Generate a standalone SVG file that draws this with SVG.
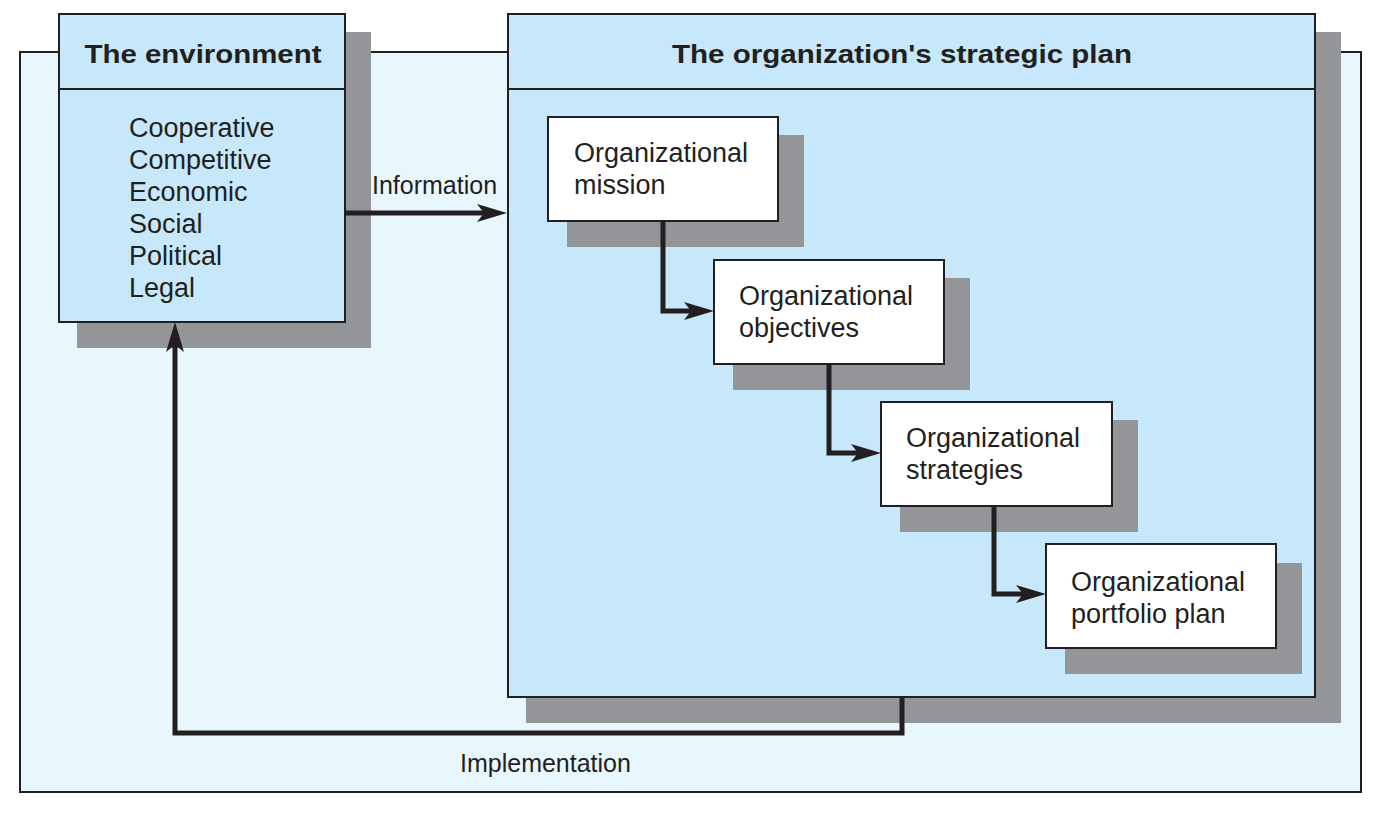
<svg xmlns="http://www.w3.org/2000/svg" width="1376" height="813" viewBox="0 0 1376 813">
  <style>
    .frame { fill: #e8f6fe; stroke: #231f20; stroke-width: 2; }
    .panel { fill: #c7e8fa; stroke: #231f20; stroke-width: 2; }
    .card { fill: #ffffff; stroke: #231f20; stroke-width: 2; }
    .shadow { fill: #939598; stroke: none; }
    .rule { stroke: #231f20; stroke-width: 2; fill: none; }
    .title { font-family: "Liberation Sans", Arial, sans-serif; font-weight: bold; font-size: 26px; fill: #231f20; }
    .body { font-family: "Liberation Sans", Arial, sans-serif; font-size: 27px; fill: #231f20; }
    .label { font-family: "Liberation Sans", Arial, sans-serif; font-size: 25px; fill: #231f20; }
    .conn { fill: none; stroke: #231f20; stroke-width: 5; stroke-linejoin: miter; }
  </style>
  <defs>
    <marker id="arrow" viewBox="0 0 30 18" markerWidth="30" markerHeight="18" markerUnits="userSpaceOnUse" refX="7" refY="9" orient="auto">
      <path d="M0,0 L30,9 L0,18 L7,9 Z" fill="#231f20"/>
    </marker>
  </defs>

  <rect width="1376" height="813" fill="#ffffff"/>

  <g id="frame">
    <rect class="frame" x="20" y="52" width="1341" height="740"/>
  </g>

  <g id="environment">
    <rect class="shadow" x="77" y="32" width="294" height="316"/>
    <rect class="panel" x="59" y="14" width="286" height="308"/>
    <line class="rule" x1="59" y1="89" x2="345" y2="89"/>
    <text class="title" x="203" y="63" text-anchor="middle" textLength="237" lengthAdjust="spacingAndGlyphs">The environment</text>
    <text class="body" x="129" y="137">Cooperative</text>
    <text class="body" x="129" y="169">Competitive</text>
    <text class="body" x="129" y="201">Economic</text>
    <text class="body" x="129" y="233">Social</text>
    <text class="body" x="129" y="265">Political</text>
    <text class="body" x="129" y="297">Legal</text>
  </g>

  <g id="strategic-plan">
    <rect class="shadow" x="526" y="32" width="815" height="691"/>
    <rect class="panel" x="508" y="14" width="807" height="683"/>
    <line class="rule" x1="508" y1="89" x2="1315" y2="89"/>
    <text class="title" x="902" y="63" text-anchor="middle" textLength="460" lengthAdjust="spacingAndGlyphs">The organization's strategic plan</text>
  </g>

  <g id="mission">
    <rect class="shadow" x="567" y="135" width="237" height="112"/>
    <rect class="card" x="548" y="117" width="230" height="104"/>
    <text class="body" x="574" y="162">Organizational</text>
    <text class="body" x="574" y="194">mission</text>
  </g>

  <g id="objectives">
    <rect class="shadow" x="733" y="278" width="237" height="112"/>
    <rect class="card" x="714" y="260" width="230" height="104"/>
    <text class="body" x="739" y="305">Organizational</text>
    <text class="body" x="739" y="337">objectives</text>
  </g>

  <g id="strategies">
    <rect class="shadow" x="900" y="420" width="238" height="112"/>
    <rect class="card" x="881" y="402" width="231" height="104"/>
    <text class="body" x="906" y="447">Organizational</text>
    <text class="body" x="906" y="479">strategies</text>
  </g>

  <g id="portfolio">
    <rect class="shadow" x="1065" y="563" width="237" height="111"/>
    <rect class="card" x="1046" y="544" width="230" height="104"/>
    <text class="body" x="1071" y="591">Organizational</text>
    <text class="body" x="1071" y="623">portfolio plan</text>
  </g>

  <g id="connectors">
    <path class="conn" d="M345,213 L484,213" marker-end="url(#arrow)"/>
    <text class="label" x="372" y="194">Information</text>
    <path class="conn" d="M663,221 L663,311 L691,311" marker-end="url(#arrow)"/>
    <path class="conn" d="M829,364 L829,453 L858,453" marker-end="url(#arrow)"/>
    <path class="conn" d="M994,506 L994,594 L1023,594" marker-end="url(#arrow)"/>
    <path class="conn" d="M902,697 L902,733 L175,733 L175,345" marker-end="url(#arrow)"/>
    <text class="label" x="460" y="772">Implementation</text>
  </g>
</svg>
